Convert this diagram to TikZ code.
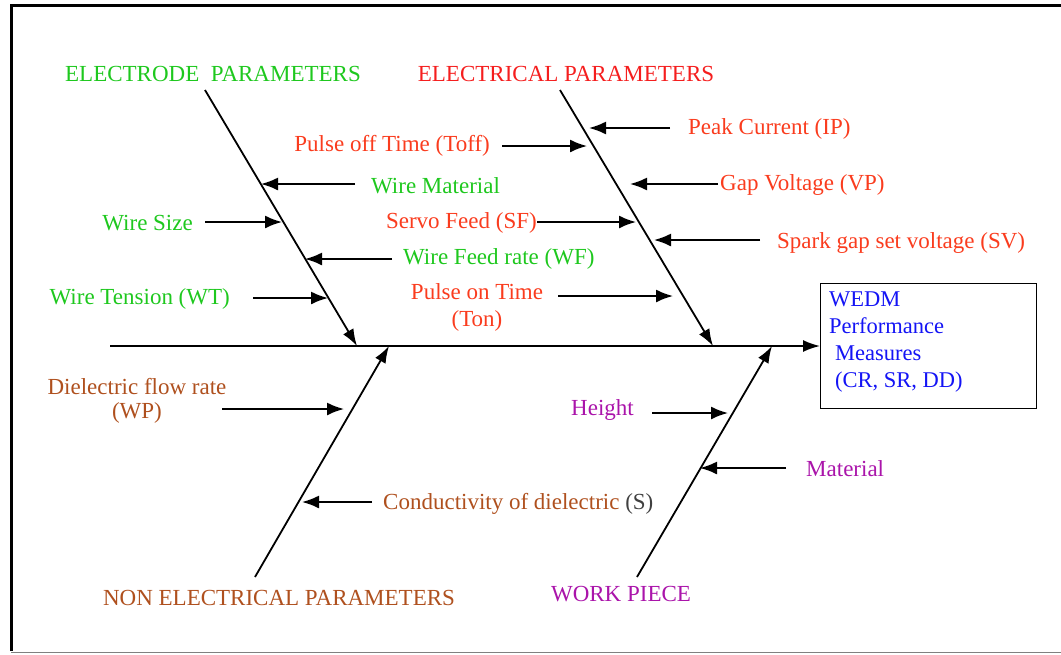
\documentclass[tikz,border=0pt]{standalone}
\usepackage{fontspec}
\setmainfont{Liberation Serif}
\usetikzlibrary{arrows.meta}
\definecolor{cgreen}{RGB}{30,200,30}
\definecolor{cred}{RGB}{250,60,30}
\definecolor{chead}{RGB}{245,30,30}
\definecolor{cbrown}{RGB}{175,80,30}
\definecolor{cpurple}{RGB}{170,20,170}
\definecolor{cblue}{RGB}{20,20,245}
\begin{document}
\begin{tikzpicture}[x=1pt,y=-1pt,
  every node/.style={font=\fontsize{23}{27}\selectfont, inner sep=0pt},
  bone/.style={line width=1.8pt, -{Latex[length=17pt,width=12pt]}},
  cause/.style={line width=1.8pt, -{Latex[length=17pt,width=13pt]}},
  spine/.style={line width=1.8pt, -{Latex[length=17pt,width=12pt]}},
  lbl/.style={align=center}]
\useasboundingbox (0,0) rectangle (1061,654);
% frame
\draw[line width=3pt] (11,651) -- (11,5) -- (1061,5);
\draw[line width=1pt, gray] (11,652) -- (1061,652);

% output box
\node[draw, line width=1.2pt, minimum width=216pt, minimum height=125pt, anchor=west] (out) at (820,346) {};
\node[anchor=north west, align=left, text=cblue, font=\fontsize{22.5}{26.7}\selectfont] (outtxt) at (829,292) {WEDM\\Performance\\\hspace{6pt}Measures\\\hspace{6pt}(CR, SR, DD)};

% spine
\coordinate (tail) at (110,346);
\draw[spine] (tail) -- (out.west |- tail);

% bone coordinates
\coordinate (b1s) at (205,90);  \coordinate (b1e) at (357,346);
\coordinate (b2s) at (560,90);  \coordinate (b2e) at (713,346);
\coordinate (b3s) at (255,577); \coordinate (b3e) at (389,346);
\coordinate (b4s) at (637,577); \coordinate (b4e) at (772,346);
\draw[bone] (b1s) -- (b1e);
\draw[bone] (b2s) -- (b2e);
\draw[bone] (b3s) -- (b3e);
\draw[bone] (b4s) -- (b4e);

% headings
\node[text=cgreen] (h1) at (213,74) {ELECTRODE\ \ PARAMETERS};
\node[text=chead] (h2) at (566,74) {ELECTRICAL PARAMETERS};
\node[text=cbrown] (h3) at (279,598) {NON ELECTRICAL PARAMETERS};
\node[text=cpurple] (h4) at (621,594) {WORK PIECE};

% electrode causes
\node[text=cgreen, anchor=west] (wm) at (371,186) {Wire Material};
\coordinate (wm1) at (355,184); \coordinate (wm2) at (261,184);
\draw[cause] (wm1) -- (wm2);
\node[text=cgreen, anchor=east] (ws) at (193,223) {Wire Size};
\coordinate (ws1) at (205,222); \coordinate (ws2) at (282,222);
\draw[cause] (ws1) -- (ws2);
\node[text=cgreen, anchor=west] (wf) at (403,259) {Wire Feed rate (WF)};
\coordinate (wf1) at (392,259); \coordinate (wf2) at (305,259);
\draw[cause] (wf1) -- (wf2);
\node[text=cgreen, anchor=east] (wt) at (230,299) {Wire Tension (WT)};
\coordinate (wt1) at (253,298); \coordinate (wt2) at (328,298);
\draw[cause] (wt1) -- (wt2);

% electrical causes
\node[text=cred, anchor=west] (ip) at (688,129) {Peak Current (IP)};
\coordinate (ip1) at (670,128); \coordinate (ip2) at (589,128);
\draw[cause] (ip1) -- (ip2);
\node[text=cred, anchor=east] (toff) at (490,146) {Pulse off Time (Toff)};
\coordinate (to1) at (502,146); \coordinate (to2) at (587,146);
\draw[cause] (to1) -- (to2);
\node[text=cred, anchor=west] (vp) at (720,185) {Gap Voltage (VP)};
\coordinate (vp1) at (718,184); \coordinate (vp2) at (630,184);
\draw[cause] (vp1) -- (vp2);
\node[text=cred, anchor=east] (sf) at (537,223) {Servo Feed (SF)};
\coordinate (sf1) at (537,222); \coordinate (sf2) at (636,222);
\draw[cause] (sf1) -- (sf2);
\node[text=cred, anchor=west] (sv) at (777,243) {Spark gap set voltage (SV)};
\coordinate (sv1) at (760,240); \coordinate (sv2) at (654,240);
\draw[cause] (sv1) -- (sv2);
\node[text=cred, lbl] (ton) at (477,307) {Pulse on Time\\(Ton)};
\coordinate (tn1) at (558,296); \coordinate (tn2) at (673,296);
\draw[cause] (tn1) -- (tn2);

% non electrical causes
\node[text=cbrown, lbl, font=\fontsize{23}{24}\selectfont] (wp) at (137,401) {Dielectric flow rate\\(WP)};
\coordinate (wp1) at (222,409); \coordinate (wp2) at (344,409);
\draw[cause] (wp1) -- (wp2);
\node[anchor=west] (cs) at (383,504) {\textcolor{cbrown}{Conductivity of dielectric} \textcolor{black!75}{(S)}};
\coordinate (cs1) at (372,502); \coordinate (cs2) at (302,502);
\draw[cause] (cs1) -- (cs2);

% work piece causes
\node[text=cpurple, anchor=east] (ht) at (634,410) {Height};
\coordinate (ht1) at (652,413); \coordinate (ht2) at (728,413);
\draw[cause] (ht1) -- (ht2);
\node[text=cpurple, anchor=west] (mt) at (806,469) {Material};
\coordinate (mt1) at (786,468); \coordinate (mt2) at (700,468);
\draw[cause] (mt1) -- (mt2);
\end{tikzpicture}
\end{document}
